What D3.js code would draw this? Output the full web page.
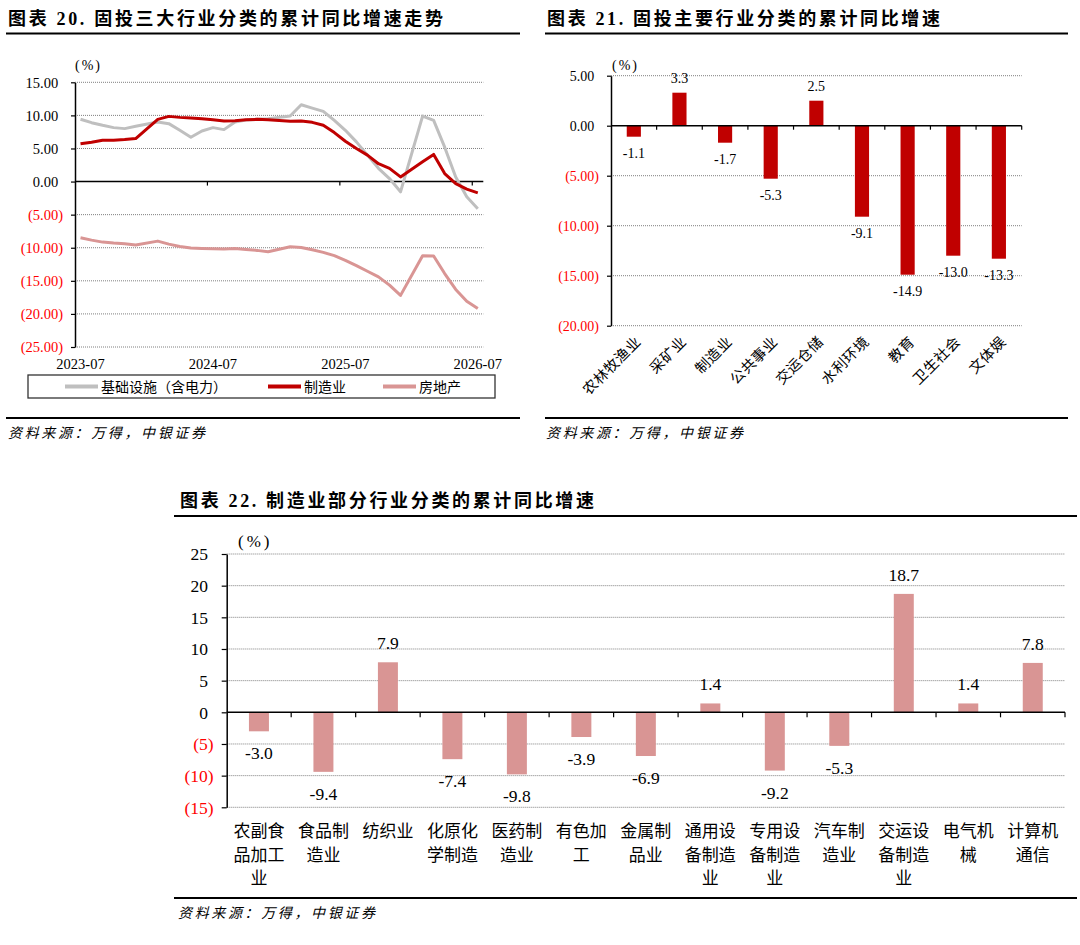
<!DOCTYPE html>
<html><head><meta charset="utf-8">
<script src="https://cdn.jsdelivr.net/npm/d3@7"></script>
<style>body{margin:0;background:#fff}svg{display:block}</style>
</head><body>
<script>
// ---------- DATA ----------
const months20 = ["2023-07","2023-08","2023-09","2023-10","2023-11","2023-12","2024-01","2024-02","2024-03","2024-04","2024-05","2024-06",
"2024-07","2024-08","2024-09","2024-10","2024-11","2024-12","2025-01","2025-02","2025-03","2025-04","2025-05","2025-06",
"2025-07","2025-08","2025-09","2025-10","2025-11","2025-12","2026-01","2026-02","2026-03","2026-04","2026-05","2026-06","2026-07"];
const xLabels20 = ["2023-07","2024-07","2025-07","2026-07"];
const infra20 = [9.42,8.9,8.5,8.15,8.0,8.35,null,9.0,8.75,7.75,6.7,7.65,8.15,7.85,9.0,9.3,9.4,9.5,null,9.9,11.6,11.1,10.6,9.25,7.75,6.0,4.0,2.0,0.45,-1.55,null,9.9,9.25,5.2,0.7,-2.3,-4.1];
const manu20 = [5.7,5.95,6.25,6.25,6.35,6.5,null,9.4,9.85,9.7,9.6,9.5,9.35,9.15,9.2,9.35,9.4,9.35,null,9.1,9.15,8.95,8.5,7.4,6.1,5.0,4.0,2.7,2.0,0.7,null,3.0,4.1,1.2,-0.3,-1.15,-1.7];
const estate20 = [-8.5,-8.85,-9.15,-9.3,-9.4,-9.6,null,-9.0,-9.45,-9.8,-10.05,-10.1,-10.15,-10.2,-10.1,-10.25,-10.4,-10.6,null,-9.85,-9.95,-10.3,-10.7,-11.2,-11.9,-12.7,-13.55,-14.4,-15.65,-17.2,null,-11.2,-11.25,-13.9,-16.3,-18.1,-19.2];
const series20Names = ["基础设施（含电力）","制造业","房地产"];
const yTicks20 = [15,10,5,0,-5,-10,-15,-20,-25];

const cats21 = ["农林牧渔业","采矿业","制造业","公共事业","交运仓储","水利环境","教育","卫生社会","文体娱"];
const vals21 = [-1.1,3.3,-1.7,-5.3,2.5,-9.1,-14.9,-13.0,-13.3];
const yTicks21 = [5,0,-5,-10,-15,-20];

const cats22 = ["农副食品加工业","食品制造业","纺织业","化原化学制造","医药制造业","有色加工","金属制品业","通用设备制造业","专用设备制造业","汽车制造业","交运设备制造业","电气机械","计算机通信"];
const vals22 = [-3.0,-9.4,7.9,-7.4,-9.8,-3.9,-6.9,1.4,-9.2,-5.3,18.7,1.4,7.8];
const yTicks22 = [25,20,15,10,5,0,-5,-10,-15];

const titles = ["图表 20. 固投三大行业分类的累计同比增速走势","图表 21. 固投主要行业分类的累计同比增速","图表 22. 制造业部分行业分类的累计同比增速"];
const sourceText = "资料来源：万得，中银证券";

// ---------- STYLE ----------
const NUM = "'Liberation Serif','Times New Roman',serif";
const CJK = "'Liberation Serif','Noto Sans CJK SC',sans-serif";
const RED = "#C00000", PINK = "#D99594", GRAY = "#BFBFBF", NEG = "#FF0000";
const f1 = v => d3.format(".1f")(v).replace("\u2212","-");
const f2 = v => d3.format(".2f")(v);

const svg = d3.select("body").append("svg").attr("width",1080).attr("height",945);

function title(txt, x, y, len, x1, x2, ly){
  svg.append("text").attr("x",x).attr("y",y).attr("font-family",CJK).attr("font-weight","bold")
    .attr("font-size",18).attr("textLength",len).attr("lengthAdjust","spacing").attr("fill","#000").text(txt);
  svg.append("line").attr("x1",x1).attr("x2",x2).attr("y1",ly).attr("y2",ly).attr("stroke","#000").attr("stroke-width",2);
}
function source(x, y, x1, x2, ly){
  svg.append("line").attr("x1",x1).attr("x2",x2).attr("y1",ly).attr("y2",ly).attr("stroke","#000").attr("stroke-width",2);
  svg.append("text").attr("x",x).attr("y",y).attr("font-family",CJK).attr("font-style","italic")
    .attr("font-size",14).attr("textLength",197).attr("lengthAdjust","spacing").attr("fill","#000").text(sourceText);
}
function grid(g, y, ticks, x1, x2){
  g.selectAll("line.grid").data(ticks.filter(t=>t!==0)).join("line").attr("class","grid")
    .attr("x1",x1).attr("x2",x2).attr("y1",d=>y(d)).attr("y2",d=>y(d))
    .attr("stroke","#7f7f7f").attr("stroke-width",1).attr("stroke-dasharray","1,1");
}
function yAxis(g, y, ticks, x0, fmt, fs, tick){
  const ax = d3.axisLeft(y).tickValues(ticks).tickSize(tick).tickSizeOuter(0).tickPadding(0).tickFormat(fmt);
  const a = g.append("g").attr("transform",`translate(${x0},0)`).call(ax);
  a.select(".domain").attr("stroke","#000").attr("stroke-width",1.5);
  a.selectAll(".tick line").attr("stroke","#000").attr("stroke-width",1.2);
  a.selectAll(".tick text").attr("font-family",NUM).attr("font-size",fs)
    .attr("fill",d=>d<0?NEG:"#000")
    .attr("x",d=>d<0? -(tick+8) : -(tick+8) - fs*0.333)
    .attr("dy","0.34em");
}

// ---------- CHART 20 ----------
title(titles[0], 8, 25, 435, 6, 520, 33.5);
{
  const g = svg.append("g");
  const y = d3.scaleLinear([-25,15],[347,82.3]);
  const x = d3.scaleBand(months20,[75,483.3]);
  const cx = m => x(m)+x.bandwidth()/2;
  grid(g,y,yTicks20,75,483.3);
  yAxis(g,y,yTicks20,75,d=>d<0?`(${f2(-d)})`:f2(d),14.5,4);
  g.append("line").attr("x1",75).attr("x2",483.3).attr("y1",y(0)).attr("y2",y(0)).attr("stroke","#000").attr("stroke-width",1.5);
  g.selectAll("line.xt").data(xLabels20.slice(1)).join("line").attr("class","xt")
    .attr("x1",d=>x(d)).attr("x2",d=>x(d)).attr("y1",y(0)).attr("y2",y(0)+4).attr("stroke","#000").attr("stroke-width",1.2);
  g.selectAll("text.xl").data(xLabels20).join("text").attr("class","xl")
    .attr("x",d=>cx(d)).attr("y",369).attr("text-anchor","middle").attr("font-family",NUM).attr("font-size",14.5).text(d=>d);
  g.append("text").attr("x",75).attr("y",70).attr("font-family",NUM).attr("font-size",14).attr("letter-spacing",2).text("(%)");
  const line = d3.line().x(d=>cx(d.m)).y(d=>y(d.v));
  const mk = arr => months20.map((m,i)=>({m,v:arr[i]})).filter(d=>d.v!==null);
  const series = [[infra20,GRAY],[manu20,RED],[estate20,PINK]];
  [[infra20,GRAY],[estate20,PINK],[manu20,RED]].forEach(([arr,c])=>{
    g.append("path").attr("d",line(mk(arr))).attr("fill","none").attr("stroke",c).attr("stroke-width",3).attr("stroke-linejoin","round");
  });
  // legend
  g.append("rect").attr("x",28).attr("y",375).attr("width",467).attr("height",23).attr("fill","none").attr("stroke","#333").attr("stroke-width",1.3);
  const lx = [65,268,383];
  series.forEach(([arr,c],i)=>{
    g.append("line").attr("x1",lx[i]).attr("x2",lx[i]+33).attr("y1",386.5).attr("y2",386.5).attr("stroke",c).attr("stroke-width",4);
    g.append("text").attr("x",lx[i]+36).attr("y",391.5).attr("font-family",CJK).attr("font-size",14).text(series20Names[i]);
  });
}
source(8, 438, 6, 520, 418);

// ---------- CHART 21 ----------
title(titles[1], 547, 25, 393, 545, 1068, 33.5);
{
  const g = svg.append("g");
  const y = d3.scaleLinear([-20,5],[325.7,75.7]);
  const x = d3.scaleBand(cats21,[611,1021.7]);
  const bw = x.bandwidth()*0.31;
  grid(g,y,yTicks21,611,1021.7);
  yAxis(g,y,yTicks21,611,d=>d<0?`(${f2(-d)})`:f2(d),14,4);
  g.selectAll("rect.bar").data(vals21).join("rect").attr("class","bar")
    .attr("x",(d,i)=>x(cats21[i])+x.bandwidth()/2-bw/2).attr("width",bw)
    .attr("y",d=>y(Math.max(0,d))).attr("height",d=>Math.abs(y(d)-y(0))).attr("fill",RED);
  g.append("line").attr("x1",611).attr("x2",1021.7).attr("y1",y(0)).attr("y2",y(0)).attr("stroke","#000").attr("stroke-width",1.5);
  g.selectAll("line.xt").data(cats21.slice(1).map(c=>x(c)).concat([x.range()[1]])).join("line").attr("class","xt")
    .attr("x1",d=>d).attr("x2",d=>d).attr("y1",y(0)).attr("y2",y(0)+4).attr("stroke","#000").attr("stroke-width",1.2);
  g.selectAll("text.vl").data(vals21).join("text").attr("class","vl")
    .attr("x",(d,i)=>x(cats21[i])+x.bandwidth()/2).attr("y",d=>d>=0? y(d)-10 : y(d)+21.5)
    .attr("text-anchor","middle").attr("font-family",NUM).attr("font-size",14).text(d=>f1(d));
  g.selectAll("text.xl").data(cats21).join("text").attr("class","xl")
    .attr("transform",d=>`translate(${x(d)+x.bandwidth()/2+8},${y(-20)+17}) rotate(-45)`)
    .attr("text-anchor","end").attr("font-family",CJK).attr("font-size",14.5).attr("letter-spacing",0.5).text(d=>d);
  g.append("text").attr("x",612).attr("y",70).attr("font-family",NUM).attr("font-size",14).attr("letter-spacing",2).text("(%)");
}
source(546, 438, 545, 1068, 418);

// ---------- CHART 22 ----------
title(titles[2], 180, 507, 414, 174, 1077, 516);
{
  const g = svg.append("g");
  const y = d3.scaleLinear([-15,25],[807.3,554]);
  const x = d3.scaleBand(cats22,[226.7,1065]);
  const bw = x.bandwidth()*0.31;
  grid(g,y,yTicks22,226.7,1065);
  yAxis(g,y,yTicks22,226.7,d=>d<0?`(${-d})`:`${d}`,17.5,5);
  g.selectAll("rect.bar").data(vals22).join("rect").attr("class","bar")
    .attr("x",(d,i)=>x(cats22[i])+x.bandwidth()/2-bw/2).attr("width",bw)
    .attr("y",d=>y(Math.max(0,d))).attr("height",d=>Math.abs(y(d)-y(0))).attr("fill",PINK);
  g.append("line").attr("x1",226.7).attr("x2",1065).attr("y1",y(0)).attr("y2",y(0)).attr("stroke","#000").attr("stroke-width",1.5);
  g.selectAll("line.xt").data(cats22.slice(1).map(c=>x(c)).concat([x.range()[1]])).join("line").attr("class","xt")
    .attr("x1",d=>d).attr("x2",d=>d).attr("y1",y(0)).attr("y2",y(0)+5).attr("stroke","#000").attr("stroke-width",1.2);
  g.selectAll("text.vl").data(vals22).join("text").attr("class","vl")
    .attr("x",(d,i)=>x(cats22[i])+x.bandwidth()/2).attr("y",d=>d>=0? y(d)-13 : y(d)+28)
    .attr("text-anchor","middle").attr("font-family",NUM).attr("font-size",17.5).text(d=>f1(d));
  cats22.forEach(c=>{
    const parts = c.match(/.{1,3}/g);
    parts.forEach((p,k)=>{
      g.append("text").attr("x",x(c)+x.bandwidth()/2).attr("y",837+k*23.5).attr("text-anchor","middle")
        .attr("font-family",CJK).attr("font-size",17).text(p);
    });
  });
  g.append("text").attr("x",238).attr("y",547).attr("font-family",NUM).attr("font-size",17).attr("letter-spacing",3).text("(%)");
}
source(178, 918, 174, 1077, 898);
</script>
</body></html>
